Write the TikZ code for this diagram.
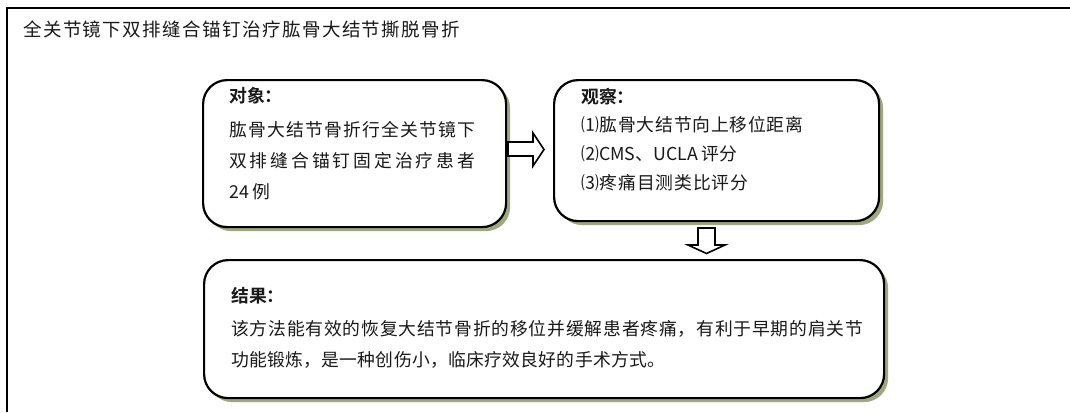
\documentclass[tikz,border=0pt]{standalone}
\usepackage{fontspec}
\setmainfont{Noto Sans CJK SC}[BoldFont={* Bold}]
\usetikzlibrary{shadows}
\makeatletter
\def\spreadline#1{\sp@first#1\relax}
\def\sp@first#1{#1\sp@rest}
\def\sp@rest#1{\ifx#1\relax\else\hfil#1\expandafter\sp@rest\fi}
\makeatother
\newcommand{\sline}[2]{\makebox[#1][s]{\spreadline{#2}}}
\definecolor{shadowgreen}{RGB}{158,168,128}
\definecolor{txtgray}{RGB}{25,25,25}
\begin{document}
\begin{tikzpicture}[x=1pt,y=-1pt,
  box/.style={draw=black, line width=2.2pt, rounded corners=24pt, fill=white,
    anchor=north west, inner sep=0pt,
    drop shadow={shadow xshift=4pt, shadow yshift=-4pt, fill=shadowgreen, opacity=1}},
  txt/.style={anchor=base west, inner sep=0pt, text=txtgray, font=\fontsize{17.8}{20}\selectfont},
  blockarrow/.style={draw=black, line width=1.6pt, fill=white, line join=miter}]
\useasboundingbox (0,0) rectangle (1070,412);
% outer frame (open on right and bottom)
\draw[line width=1.5pt] (7,412) -- (7,8) -- (1070,8);
\node[txt, font=\fontsize{18.5}{20}\selectfont] (title) at (23,37) {\sline{437pt}{全关节镜下双排缝合锚钉治疗肱骨大结节撕脱骨折}};
% boxes
\node[box, minimum width=303pt, minimum height=147pt] (obj) at (202,79) {};
\node[box, minimum width=325pt, minimum height=141pt] (obs) at (553,79) {};
\node[box, minimum width=680pt, minimum height=138pt] (res) at (203,259) {};
% box 1 text
\node[txt] (objh) at (229,102) {\bfseries 对象：};
\node[txt] (obj1) at (229,136) {\sline{246pt}{肱骨大结节骨折行全关节镜下}};
\node[txt] (obj2) at (229,167) {\sline{246pt}{双排缝合锚钉固定治疗患者}};
\node[txt] (obj3) at (229,198) {24 例};
% box 2 text
\node[txt] (obsh) at (581,103) {\bfseries 观察：};
\node[txt] (obs1) at (581,131) {\sline{222pt}{⑴肱骨大结节向上移位距离}};
\node[txt] (obs2) at (581,160) {⑵CMS、UCLA 评分};
\node[txt] (obs3) at (581,189) {\sline{167pt}{⑶疼痛目测类比评分}};
% box 3 text
\node[txt] (resh) at (231,302) {\bfseries 结果：};
\node[txt] (res1) at (231,335) {\sline{632pt}{该方法能有效的恢复大结节骨折的移位并缓解患者疼痛，有利于早期的肩关节}};
\node[txt] (res2) at (231,366) {\sline{434pt}{功能锻炼，是一种创伤小，临床疗效良好的手术方式。}};
% block arrows
\draw[blockarrow] (508,142) -- (533,142) -- (533,133) -- (544,149.5) -- (533,166) -- (533,156) -- (508,156) -- cycle;
\draw[blockarrow] (698,228) -- (715,228) -- (715,245) -- (725,245) -- (706.5,253.5) -- (688,245) -- (698,245) -- cycle;
\end{tikzpicture}
\end{document}
